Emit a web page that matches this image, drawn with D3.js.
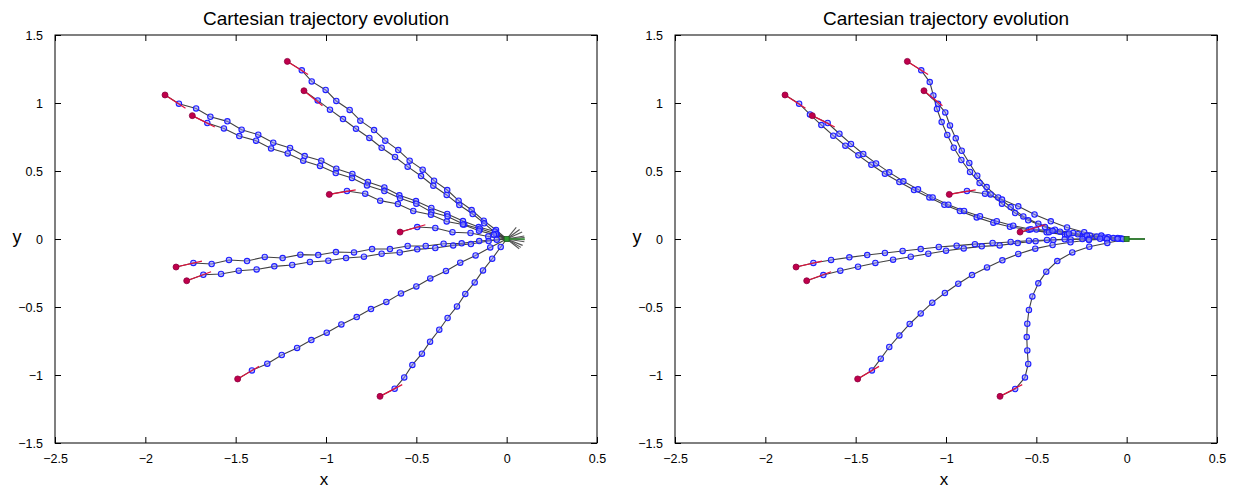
<!DOCTYPE html>
<html><head><meta charset="utf-8">
<script src="https://cdn.jsdelivr.net/npm/d3@7"></script>
<style>
html,body{margin:0;padding:0;background:#fff;}
svg{display:block;font-family:"Liberation Sans",Arial,sans-serif;}
</style></head>
<body>
<svg id="chart" width="1233" height="490"></svg>
<script>
// ---------- tick labels ----------
const xTicks = [-2.5, -2, -1.5, -1, -0.5, 0, 0.5];
const yTicks = [-1.5, -1, -0.5, 0, 0.5, 1, 1.5];
const chartTitle = "Cartesian trajectory evolution";

// initial headings (deg) of the 10 robots (red segments)
const startHeadingsDeg = [-40, -47, -41, -34, 13, 21, 17, 26, 38, 35];
// final headings (deg) (grey fan at the goal)
const finalHeadingsLeftDeg = [58, 44, 31, 13, 6, -3, -12, -28, -38, -46];
const finalHeadingsRightDeg = [0, 0, 0, 0, 0, 0, 0, 0, 0, 0];

// ---------- left panel trajectories ----------
const L1 = [[-1.214,1.306],[-1.134,1.240],[-1.079,1.159],[-1.002,1.096],[-0.943,1.015],[-0.869,0.949],[-0.810,0.870],[-0.734,0.801],[-0.672,0.723],[-0.600,0.654],[-0.537,0.576],[-0.465,0.510],[-0.402,0.429],[-0.329,0.360],[-0.266,0.282],[-0.194,0.213],[-0.127,0.135],[-0.059,0.066],[0,0]];
const L2 = [[-1.122,1.090],[-1.046,1.019],[-0.978,0.951],[-0.906,0.882],[-0.834,0.811],[-0.760,0.743],[-0.692,0.671],[-0.618,0.603],[-0.548,0.532],[-0.474,0.463],[-0.406,0.392],[-0.332,0.324],[-0.262,0.250],[-0.188,0.184],[-0.124,0.115],[-0.055,0.037],[0,0]];
const L3 = [[-1.891,1.059],[-1.814,0.995],[-1.719,0.960],[-1.640,0.899],[-1.546,0.865],[-1.467,0.804],[-1.375,0.767],[-1.292,0.708],[-1.199,0.669],[-1.118,0.610],[-1.026,0.576],[-0.943,0.517],[-0.854,0.478],[-0.768,0.419],[-0.677,0.379],[-0.594,0.321],[-0.502,0.279],[-0.417,0.228],[-0.329,0.184],[-0.242,0.132],[-0.155,0.088],[-0.065,0.056],[0,0]];
const L4 = [[-1.740,0.907],[-1.657,0.853],[-1.565,0.813],[-1.480,0.757],[-1.387,0.723],[-1.304,0.666],[-1.212,0.629],[-1.126,0.576],[-1.033,0.537],[-0.946,0.485],[-0.856,0.449],[-0.773,0.394],[-0.677,0.353],[-0.590,0.299],[-0.500,0.260],[-0.417,0.199],[-0.327,0.166],[-0.235,0.107],[-0.148,0.076],[-0.059,0.037],[0,0]];
const L5 = [[-0.982,0.328],[-0.884,0.353],[-0.783,0.333],[-0.700,0.282],[-0.602,0.257],[-0.517,0.206],[-0.419,0.179],[-0.332,0.129],[-0.242,0.107],[-0.153,0.061],[-0.070,0.032],[0,0]];
const L6 = [[-0.590,0.051],[-0.495,0.088],[-0.395,0.081],[-0.300,0.050],[-0.200,0.044],[-0.102,0.019],[0,0]];
const L7 = [[-1.830,-0.206],[-1.734,-0.176],[-1.633,-0.184],[-1.537,-0.154],[-1.437,-0.162],[-1.339,-0.132],[-1.240,-0.140],[-1.142,-0.115],[-1.043,-0.118],[-0.945,-0.096],[-0.845,-0.099],[-0.745,-0.074],[-0.646,-0.074],[-0.548,-0.051],[-0.448,-0.051],[-0.349,-0.035],[-0.249,-0.032],[-0.152,-0.015],[-0.055,-0.005],[0,0]];
const L8 = [[-1.771,-0.307],[-1.679,-0.263],[-1.581,-0.257],[-1.483,-0.233],[-1.384,-0.224],[-1.286,-0.201],[-1.187,-0.191],[-1.089,-0.169],[-0.987,-0.160],[-0.889,-0.140],[-0.790,-0.130],[-0.692,-0.108],[-0.592,-0.099],[-0.495,-0.076],[-0.395,-0.066],[-0.296,-0.047],[-0.198,-0.037],[-0.100,-0.015],[0,0]];
const L9 = [[-1.489,-1.029],[-1.410,-0.966],[-1.325,-0.917],[-1.245,-0.853],[-1.160,-0.801],[-1.081,-0.743],[-0.996,-0.689],[-0.915,-0.628],[-0.830,-0.574],[-0.751,-0.515],[-0.666,-0.463],[-0.585,-0.400],[-0.500,-0.349],[-0.423,-0.290],[-0.336,-0.235],[-0.257,-0.174],[-0.172,-0.121],[-0.091,-0.062],[0,0]];
const L10 = [[-0.701,-1.157],[-0.620,-1.101],[-0.567,-1.018],[-0.522,-0.926],[-0.469,-0.843],[-0.424,-0.755],[-0.373,-0.667],[-0.327,-0.581],[-0.275,-0.496],[-0.229,-0.404],[-0.177,-0.319],[-0.131,-0.231],[-0.080,-0.145],[-0.033,-0.059],[0,0]];

// ---------- right panel trajectories ----------
const R1 = [[-1.214,1.306],[-1.137,1.240],[-1.090,1.154],[-1.070,1.056],[-1.050,0.956],[-1.024,0.860],[-0.993,0.765],[-0.957,0.671],[-0.915,0.581],[-0.867,0.493],[-0.814,0.412],[-0.753,0.328],[-0.690,0.260],[-0.617,0.191],[-0.545,0.137],[-0.452,0.088],[-0.369,0.054],[-0.270,0.035],[-0.166,0.019],[-0.074,0.007],[0,0]];
const R2 = [[-1.122,1.090],[-1.044,0.994],[-1.004,0.931],[-0.978,0.835],[-0.946,0.740],[-0.913,0.649],[-0.871,0.559],[-0.827,0.465],[-0.775,0.382],[-0.711,0.306],[-0.642,0.235],[-0.572,0.166],[-0.489,0.113],[-0.397,0.068],[-0.296,0.044],[-0.203,0.026],[-0.102,0.012],[0,0]];
const R3 = [[-1.891,1.059],[-1.813,0.995],[-1.753,0.916],[-1.690,0.838],[-1.624,0.760],[-1.557,0.686],[-1.485,0.615],[-1.413,0.546],[-1.338,0.480],[-1.258,0.419],[-1.177,0.360],[-1.092,0.306],[-1.009,0.252],[-0.923,0.206],[-0.830,0.159],[-0.738,0.120],[-0.646,0.090],[-0.541,0.068],[-0.443,0.049],[-0.341,0.032],[-0.240,0.022],[-0.138,0.012],[-0.046,0.004],[0,0]];
const R4 = [[-1.740,0.907],[-1.655,0.853],[-1.590,0.774],[-1.526,0.699],[-1.458,0.625],[-1.387,0.556],[-1.314,0.490],[-1.236,0.424],[-1.155,0.365],[-1.074,0.306],[-0.987,0.252],[-0.900,0.206],[-0.812,0.168],[-0.719,0.131],[-0.628,0.098],[-0.530,0.072],[-0.430,0.050],[-0.330,0.033],[-0.231,0.021],[-0.131,0.010],[-0.037,0.004],[0,0]];
const R5 = [[-0.982,0.328],[-0.884,0.353],[-0.784,0.333],[-0.690,0.290],[-0.600,0.240],[-0.510,0.180],[-0.420,0.130],[-0.330,0.085],[-0.235,0.050],[-0.140,0.025],[-0.050,0.008],[0,0]];
const R6 = [[-0.590,0.051],[-0.500,0.070],[-0.410,0.060],[-0.320,0.040],[-0.220,0.025],[-0.120,0.010],[-0.030,0.003],[0,0]];
const R7 = [[-1.830,-0.206],[-1.734,-0.176],[-1.636,-0.154],[-1.535,-0.135],[-1.436,-0.118],[-1.338,-0.103],[-1.240,-0.088],[-1.140,-0.074],[-1.040,-0.059],[-0.941,-0.049],[-0.840,-0.038],[-0.742,-0.029],[-0.642,-0.022],[-0.541,-0.013],[-0.441,-0.007],[-0.343,-0.002],[-0.245,0.000],[-0.147,0.002],[-0.050,0.001],[0,0]];
const R8 = [[-1.771,-0.307],[-1.679,-0.265],[-1.585,-0.233],[-1.487,-0.204],[-1.391,-0.176],[-1.293,-0.152],[-1.195,-0.130],[-1.098,-0.108],[-1.000,-0.086],[-0.902,-0.069],[-0.802,-0.054],[-0.703,-0.047],[-0.603,-0.029],[-0.504,-0.016],[-0.406,-0.007],[-0.310,-0.003],[-0.210,0.000],[-0.110,0.000],[-0.020,0.000],[0,0]];
const R9 = [[-1.489,-1.029],[-1.410,-0.966],[-1.361,-0.880],[-1.314,-0.794],[-1.258,-0.709],[-1.201,-0.625],[-1.140,-0.547],[-1.076,-0.468],[-1.006,-0.397],[-0.932,-0.329],[-0.856,-0.265],[-0.773,-0.209],[-0.688,-0.157],[-0.600,-0.110],[-0.506,-0.071],[-0.410,-0.044],[-0.311,-0.024],[-0.209,-0.007],[-0.109,-0.001],[0,0]];
const R10 = [[-0.701,-1.157],[-0.617,-1.103],[-0.563,-1.018],[-0.545,-0.919],[-0.550,-0.819],[-0.553,-0.721],[-0.550,-0.623],[-0.541,-0.522],[-0.522,-0.422],[-0.489,-0.326],[-0.445,-0.240],[-0.384,-0.162],[-0.301,-0.099],[-0.207,-0.057],[-0.107,-0.029],[0,0]];

const leftTrajectories = [L1, L2, L3, L4, L5, L6, L7, L8, L9, L10];
const rightTrajectories = [R1, R2, R3, R4, R5, R6, R7, R8, R9, R10];
const goal = [0, 0];
const goalHeadingDeg = 0;

// ---------- layout ----------
const svg = d3.select("#chart");
const W = 542, H = 408, TOP = 35;
const startLen = 0.15, endLen = 0.1;

function drawPanel(left, trajs, finalHeadings) {
  const x = d3.scaleLinear().domain([-2.5, 0.5]).range([left, left + W]);
  const y = d3.scaleLinear().domain([-1.5, 1.5]).range([TOP + H, TOP]);
  const g = svg.append("g");

  g.append("rect").attr("x", left).attr("y", TOP).attr("width", W).attr("height", H)
    .attr("fill", "none").attr("stroke", "#000").attr("stroke-width", 1);

  const tl = 6;
  const axB = d3.axisBottom(x).tickValues(xTicks).tickSize(-tl).tickPadding(tl + 5).tickFormat(d3.format("~g"));
  const axT = d3.axisTop(x).tickValues(xTicks).tickSize(-tl).tickFormat("");
  const axL = d3.axisLeft(y).tickValues(yTicks).tickSize(-tl).tickPadding(tl + 6).tickFormat(d3.format("~g"));
  const axR = d3.axisRight(y).tickValues(yTicks).tickSize(-tl).tickFormat("");
  [[axB, `translate(0,${TOP + H})`], [axT, `translate(0,${TOP})`], [axL, `translate(${left},0)`], [axR, `translate(${left + W},0)`]]
    .forEach(([ax, tr]) => {
      const a = g.append("g").attr("transform", tr).call(ax);
      a.select(".domain").remove();
      a.selectAll("line").attr("stroke", "#000");
      a.selectAll("text").attr("font-size", 12.5).attr("fill", "#000")
        .attr("font-family", "Liberation Sans, Arial, sans-serif");
    });

  g.append("text").attr("x", left + W / 2).attr("y", 25).attr("text-anchor", "middle")
    .attr("font-size", 19).text(chartTitle);
  g.append("text").attr("x", left + W / 2 - 2).attr("y", 485).attr("text-anchor", "middle")
    .attr("font-size", 17).text("x");
  g.append("text").attr("x", left - 38).attr("y", TOP + H / 2 + 4).attr("text-anchor", "middle")
    .attr("font-size", 18).text("y");

  const line = d3.line().x(d => x(d[0])).y(d => y(d[1]));

  trajs.forEach(t => {
    g.append("path").attr("d", line(t)).attr("fill", "none")
      .attr("stroke", "#404040").attr("stroke-width", 1.1);
  });
  trajs.forEach(t => {
    g.selectAll(null).data(t.slice(1, -1)).enter().append("circle")
      .attr("cx", d => x(d[0])).attr("cy", d => y(d[1])).attr("r", 2.7)
      .attr("fill", "rgba(140,140,255,0.55)").attr("stroke", "#1f1fff").attr("stroke-width", 1.1);
  });

  finalHeadings.forEach(a => {
    const r = a * Math.PI / 180;
    g.append("line").attr("x1", x(goal[0])).attr("y1", y(goal[1]))
      .attr("x2", x(goal[0] + endLen * Math.cos(r))).attr("y2", y(goal[1] + endLen * Math.sin(r)))
      .attr("stroke", "#555").attr("stroke-width", 1.1);
  });
  const gr = goalHeadingDeg * Math.PI / 180;
  g.append("line").attr("x1", x(goal[0])).attr("y1", y(goal[1]))
    .attr("x2", x(goal[0] + endLen * Math.cos(gr))).attr("y2", y(goal[1] + endLen * Math.sin(gr)))
    .attr("stroke", "#2e9a2e").attr("stroke-width", 1.3);
  g.append("rect").attr("x", x(goal[0]) - 2.5).attr("y", y(goal[1]) - 2.5).attr("width", 5).attr("height", 5)
    .attr("fill", "#2e9a2e").attr("stroke", "#1d5f1d").attr("stroke-width", 0.8);

  trajs.forEach((t, i) => {
    const r = startHeadingsDeg[i] * Math.PI / 180;
    const s = t[0];
    g.append("line").attr("x1", x(s[0])).attr("y1", y(s[1]))
      .attr("x2", x(s[0] + startLen * Math.cos(r))).attr("y2", y(s[1] + startLen * Math.sin(r)))
      .attr("stroke", "#e0103c").attr("stroke-width", 1.2);
    g.append("circle").attr("cx", x(s[0])).attr("cy", y(s[1])).attr("r", 3)
      .attr("fill", "#c0004a").attr("stroke", "#8a0040").attr("stroke-width", 0.8);
  });
}

drawPanel(55, leftTrajectories, finalHeadingsLeftDeg);
drawPanel(675, rightTrajectories, finalHeadingsRightDeg);
</script>
</body></html>
